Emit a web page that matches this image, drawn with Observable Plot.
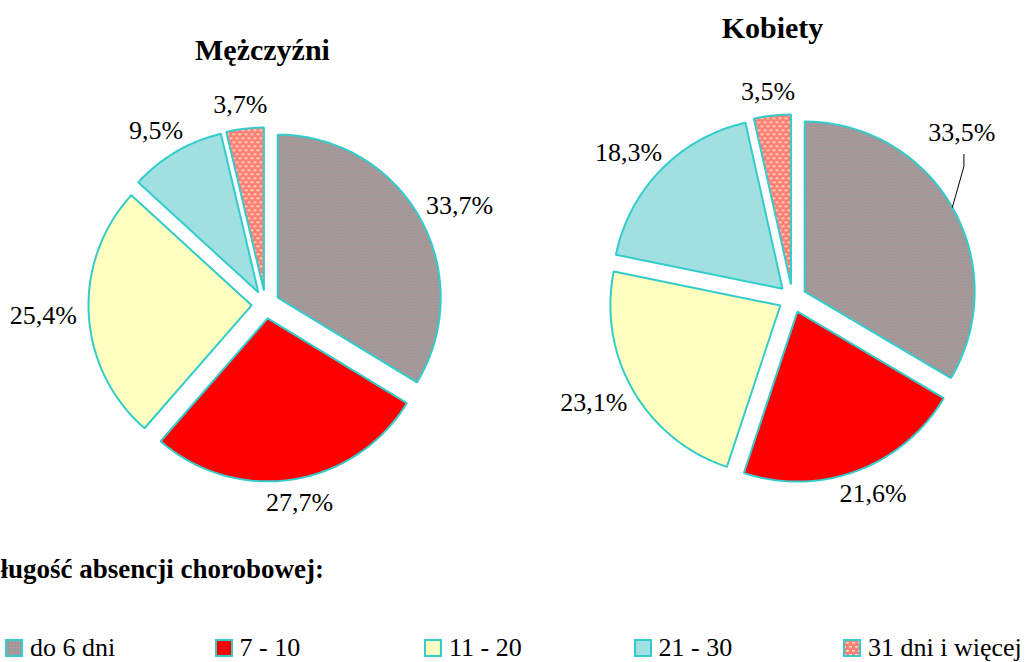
<!DOCTYPE html>
<html>
<head>
<meta charset="utf-8">
<script src="https://cdn.jsdelivr.net/npm/d3@7"></script>
<script src="https://cdn.jsdelivr.net/npm/@observablehq/plot@0.6"></script>
<style>
  html, body { margin: 0; padding: 0; background: #fff; overflow: hidden; }
  #chart svg { display: block; font-family: "Liberation Serif", "Times New Roman", Times, "DejaVu Serif", serif; }
  #chart svg text { font-family: "Liberation Serif", "Times New Roman", Times, "DejaVu Serif", serif; }
  #legend { position: relative; width: 1033px; height: 107px; font-family: "Liberation Serif", "Times New Roman", Times, "DejaVu Serif", serif; color: #000; }
  #legend .hdr { position: absolute; left: -19px; top: 1px; font-size: 27px; font-weight: bold; line-height: 1; white-space: nowrap; }
  #legend .item { position: absolute; top: 80px; font-size: 26px; line-height: 1; white-space: nowrap; }
  #legend .sw { position: absolute; top: 4px; left: 0; width: 14px; height: 14px; border: 2px solid #33CCCC; }
  #legend .lbl { position: absolute; left: 25px; top: 0; }
</style>
</head>
<body>
<svg width="0" height="0" style="position:absolute">
  <defs>
    <pattern id="pGray" patternUnits="userSpaceOnUse" width="3" height="3">
      <rect width="3" height="3" fill="#9a9a9a"/>
      <rect x="0" y="0" width="1" height="1" fill="#f08a8a"/>
    </pattern>
    <pattern id="pSalmon" patternUnits="userSpaceOnUse" width="6" height="8">
      <rect width="6" height="8" fill="#ff7c80"/>
      <rect x="1" y="1" width="3" height="1.5" fill="#ffee99"/>
      <rect x="4" y="5" width="2" height="1.5" fill="#ffee99"/>
      <rect x="0" y="5" width="1" height="1.5" fill="#ffee99"/>
    </pattern>
  </defs>
</svg>
<div id="chart"></div>
<div id="legend"></div>
<script>
// ---- data ----
const categories = ["do 6 dni", "7 - 10", "11 - 20", "21 - 30", "31 dni i więcej"];
const menValues = [33.7, 27.7, 25.4, 9.5, 3.7];
const womenValues = [33.5, 21.6, 23.1, 18.3, 3.5];
const pieTitles = ["Mężczyźni", "Kobiety"];
const legendTitle = "Długość absencji chorobowej:";

// ---- styles ----
const serif = "Liberation Serif, Times New Roman, Times, DejaVu Serif, serif";
const sliceFills = ["url(#pGray)", "#ff0000", "#ffffc0", "#a0e0e0", "url(#pSalmon)"];
const edge = "#33CCCC";
const W = 1033, H = 555;

// layout of the two pies
const pies = [
  {title: pieTitles[0], values: menValues, cx: 265, cy: 304, r: 163, d: 14, titleX: 262, titleY: 50},
  {title: pieTitles[1], values: womenValues, cx: 792, cy: 298, r: 170, d: 14, titleX: 772, titleY: 28}
];

const ctx = document.createElement("canvas").getContext("2d");
ctx.font = "26px 'Liberation Serif', serif";
const fmt = v => v.toFixed(1).replace(".", ",") + "%";

const polys = [], labels = [], leaders = [], titles = [];
pies.forEach((p, pi) => {
  const arcs = d3.pie().sort(null).value(v => v)(p.values);
  titles.push({x: p.titleX, y: p.titleY, text: p.title});
  arcs.forEach((a, i) => {
    const mid = (a.startAngle + a.endAngle) / 2;
    const ux = Math.sin(mid), uy = -Math.cos(mid);
    const vx = p.cx + p.d * ux, vy = p.cy + p.d * uy;
    const id = pi + "-" + i;
    polys.push({id, fill: sliceFills[i], x: vx, y: vy});
    const n = Math.max(4, Math.ceil((a.endAngle - a.startAngle) / (Math.PI / 180)));
    for (let k = 0; k <= n; k++) {
      const t = a.startAngle + (a.endAngle - a.startAngle) * k / n;
      polys.push({id, fill: sliceFills[i], x: vx + p.r * Math.sin(t), y: vy - p.r * Math.cos(t)});
    }
    const text = fmt(a.data);
    const w = ctx.measureText(text).width, h = 24;
    const R = p.r + p.d + 12;
    let lx = p.cx + R * ux + ux * w / 2;
    let ly = p.cy + R * uy + uy * h / 2;
    if (pi === 1 && i === 0) {
      // label moved up with a leader line to the arc midpoint
      lx -= 30; ly -= 63;
      const ax = vx + p.r * ux, ay = vy + p.r * uy;
      leaders.push({x: ax, y: ay}, {x: lx + 2, y: ly + 34}, {x: lx + 2, y: ly + 22});
    }
    labels.push({x: lx, y: ly, text});
  });
});

const chart = Plot.plot({
  width: W, height: H,
  margin: 0,
  style: {fontFamily: serif},
  x: {domain: [0, W], range: [0, W], axis: null},
  y: {domain: [0, H], range: [0, H], axis: null},
  color: {type: "identity"},
  marks: [
    Plot.line(polys, {x: "x", y: "y", z: "id", fill: "fill", stroke: edge, strokeWidth: 2, curve: "linear-closed", strokeLinejoin: "miter"}),
    Plot.line(leaders, {x: "x", y: "y", stroke: "#000", strokeWidth: 1}),
    Plot.text(labels, {x: "x", y: "y", text: "text", fontSize: 26, fontFamily: serif, fill: "#000", lineAnchor: "middle"}),
    Plot.text(titles, {x: "x", y: "y", text: "text", fontSize: 30, fontWeight: "bold", fontFamily: serif, fill: "#000", lineAnchor: "middle"})
  ]
});
document.getElementById("chart").appendChild(chart);

// legend
const legend = document.getElementById("legend");
const hdr = document.createElement("div");
hdr.className = "hdr"; hdr.textContent = legendTitle;
legend.appendChild(hdr);
categories.forEach((c, i) => {
  const it = document.createElement("div");
  it.className = "item";
  it.style.left = (5 + i * 209.5) + "px";
  const sw = document.createElement("div");
  sw.className = "sw";
  const s = document.createElementNS("http://www.w3.org/2000/svg", "svg");
  s.setAttribute("width", 14); s.setAttribute("height", 14);
  s.style.display = "block";
  const r = document.createElementNS("http://www.w3.org/2000/svg", "rect");
  r.setAttribute("width", 14); r.setAttribute("height", 14);
  r.setAttribute("fill", sliceFills[i]);
  s.appendChild(r); sw.appendChild(s);
  const lb = document.createElement("span");
  lb.className = "lbl"; lb.textContent = c;
  it.appendChild(sw); it.appendChild(lb);
  legend.appendChild(it);
});
</script>
</body>
</html>
